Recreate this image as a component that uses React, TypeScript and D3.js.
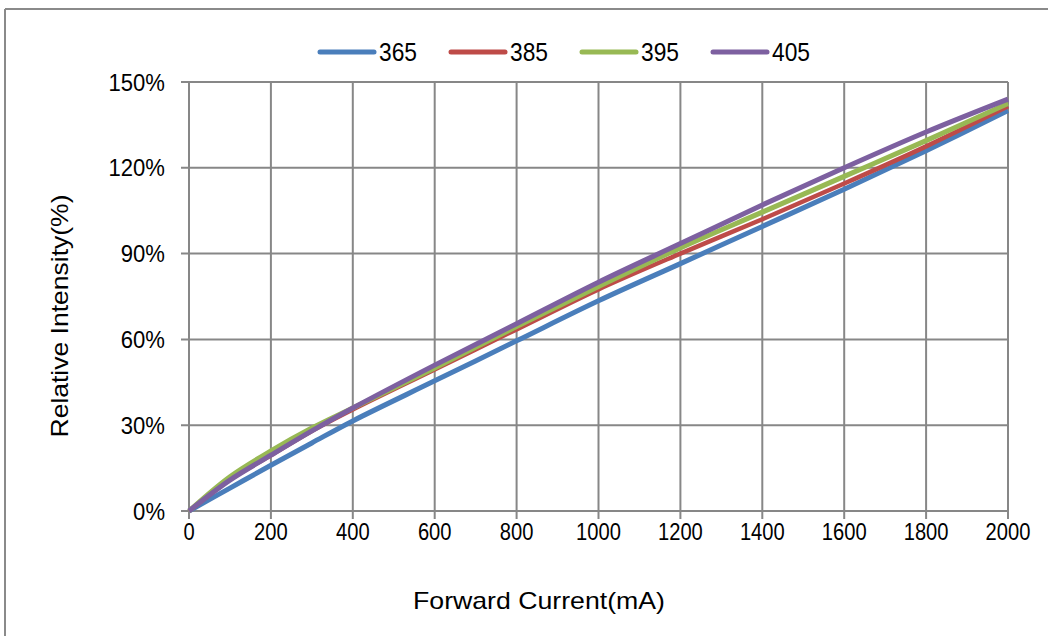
import React from "react";
import * as d3 from "d3";

const currents = [0, 100, 200, 300, 400, 600, 800, 1000, 1200, 1400, 1600, 1800, 2000];
const s365 = [0, 8, 16, 23.8, 31.5, 45.5, 59.5, 73.5, 86.5, 99.5, 112.5, 126, 140];
const s385 = [0, 11, 19.5, 28, 35.5, 49.5, 63.5, 77.5, 90, 102, 114.5, 127.5, 141.5];
const s395 = [0, 12, 21, 29, 36, 50, 64.5, 78.5, 92, 104.5, 117, 129.5, 142.5];
const s405 = [0, 10.8, 19.5, 28, 36, 51, 65.5, 80, 93.5, 107, 120, 132.5, 144];
const seriesNames = ["365", "385", "395", "405"];
const seriesValues = [s365, s385, s395, s405];
const colors = ["#4A7EBB", "#BE4B48", "#98B954", "#7D60A0"];
const xTickValues = [0, 200, 400, 600, 800, 1000, 1200, 1400, 1600, 1800, 2000];
const yTickValues = [0, 30, 60, 90, 120, 150];

const W = 1048;
const H = 636;
const left = 189;
const right = 1008;
const top = 82;
const bottom = 511;

export default function App() {
  const x = d3.scaleLinear().domain([0, 2000]).range([left, right]);
  const y = d3.scaleLinear().domain([0, 150]).range([bottom, top]);
  const line = d3
    .line<number>()
    .x((_, i) => x(currents[i]))
    .y((d) => y(d))
    .curve(d3.curveCatmullRom.alpha(0.5));
  const grid = "#878787";
  const font = "'Liberation Sans', Arial, sans-serif";
  const sx = 0.84;
  return (
    <div style={{ position: "fixed", left: 0, top: 0 }}>
      <svg width={W} height={H} style={{ display: "block", background: "#fff" }}>
        <rect x={0} y={0} width={W} height={H} fill="#fff" />
        {/* outer frame */}
        <line x1={5} y1={9} x2={W} y2={9} stroke="#8a8a8a" strokeWidth={2} />
        <line x1={5} y1={9} x2={5} y2={H} stroke="#8a8a8a" strokeWidth={2} />
        {/* grid */}
        {xTickValues.map((t) => (
          <line key={"gx" + t} x1={x(t)} x2={x(t)} y1={top} y2={bottom + 8} stroke={grid} strokeWidth={2} />
        ))}
        {yTickValues.map((t) => (
          <line key={"gy" + t} x1={left - 8} x2={right} y1={y(t)} y2={y(t)} stroke={grid} strokeWidth={2} />
        ))}
        {/* series */}
        {seriesValues.map((vals, i) => (
          <path
            key={seriesNames[i]}
            d={line(vals) || ""}
            fill="none"
            stroke={colors[i]}
            strokeWidth={i === 1 ? 4.5 : 5}
            strokeLinejoin="round"
          />
        ))}
        {/* y tick labels */}
        {yTickValues.map((t) => (
          <text
            key={"ty" + t}
            transform={`translate(165,${y(t)}) scale(0.92,1)`}
            dy="0.36em"
            textAnchor="end"
            fontFamily={font}
            fontSize={24}
            fill="#000"
          >
            {t + "%"}
          </text>
        ))}
        {/* x tick labels */}
        {xTickValues.map((t) => (
          <text
            key={"tx" + t}
            transform={`translate(${x(t)},540) scale(${sx},1)`}
            textAnchor="middle"
            fontFamily={font}
            fontSize={24}
            fill="#000"
          >
            {String(t)}
          </text>
        ))}
        {/* axis titles */}
        <text
          x={539}
          y={609}
          textAnchor="middle"
          fontFamily={font}
          fontSize={24}
          textLength={252}
          lengthAdjust="spacingAndGlyphs"
          fill="#000"
        >
          Forward Current(mA)
        </text>
        <text
          transform={`translate(68,316) rotate(-90)`}
          textAnchor="middle"
          fontFamily={font}
          fontSize={24}
          textLength={243}
          lengthAdjust="spacingAndGlyphs"
          fill="#000"
        >
          Relative Intensity(%)
        </text>
        {/* legend */}
        {seriesNames.map((n, i) => {
          const lx = 320 + i * 131;
          return (
            <g key={"lg" + n}>
              <line x1={lx} x2={lx + 54} y1={52} y2={52} stroke={colors[i]} strokeWidth={5} strokeLinecap="round" />
              <text
                x={lx + 59}
                y={61}
                fontFamily={font}
                fontSize={26}
                textLength={38}
                lengthAdjust="spacingAndGlyphs"
                fill="#000"
              >
                {n}
              </text>
            </g>
          );
        })}
      </svg>
    </div>
  );
}
